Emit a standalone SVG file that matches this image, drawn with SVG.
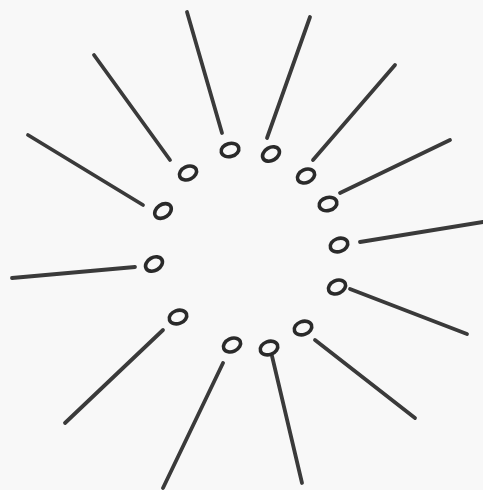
<svg xmlns="http://www.w3.org/2000/svg" width="483" height="490" viewBox="0 0 483 490">
<style>
.bg{fill:#f8f8f8}
.ring{fill:none;stroke:#2a2a2a;stroke-width:3.6}
.ray{stroke:#3a3a3a;stroke-width:3.8;stroke-linecap:round}
</style>
<defs>
<ellipse id="o" cx="0" cy="0" rx="9" ry="6.5" class="ring"/>
</defs>
<rect class="bg" x="0" y="0" width="483" height="490"/>
<g id="connectors">
<line class="ray" x1="28" y1="135" x2="143" y2="205"/>
<line class="ray" x1="94" y1="55" x2="170" y2="160"/>
<line class="ray" x1="187" y1="12" x2="222" y2="133"/>
<line class="ray" x1="310" y1="17" x2="267" y2="138"/>
<line class="ray" x1="395" y1="65" x2="313" y2="160"/>
<line class="ray" x1="450" y1="140" x2="340" y2="193"/>
<line class="ray" x1="483" y1="222" x2="360" y2="242"/>
<line class="ray" x1="12" y1="278" x2="135" y2="267"/>
<line class="ray" x1="350" y1="289" x2="467" y2="334"/>
<line class="ray" x1="163" y1="330" x2="65" y2="423"/>
<line class="ray" x1="223" y1="363" x2="163" y2="488"/>
<line class="ray" x1="272" y1="356" x2="302" y2="483"/>
<line class="ray" x1="315" y1="340" x2="415" y2="418"/>
</g>
<g id="n1"><use href="#o" transform="translate(163,211) rotate(-35)"/></g>
<g id="n2"><use href="#o" transform="translate(188,173) rotate(-25)"/></g>
<g id="n3"><use href="#o" transform="translate(230,150) rotate(-15)"/></g>
<g id="n4"><use href="#o" transform="translate(271,154) rotate(-30)"/></g>
<g id="n5"><use href="#o" transform="translate(306,176) rotate(-25)"/></g>
<g id="n6"><use href="#o" transform="translate(328,204) rotate(-15)"/></g>
<g id="n7"><use href="#o" transform="translate(339,245) rotate(-20)"/></g>
<g id="n8"><use href="#o" transform="translate(154,264) rotate(-30)"/></g>
<g id="n9"><use href="#o" transform="translate(337,287) rotate(-25)"/></g>
<g id="n10"><use href="#o" transform="translate(178,317) rotate(-20)"/></g>
<g id="n11"><use href="#o" transform="translate(232,345) rotate(-25)"/></g>
<g id="n12"><use href="#o" transform="translate(269,348) rotate(-20)"/></g>
<g id="n13"><use href="#o" transform="translate(303,328) rotate(-20)"/></g>
</svg>
